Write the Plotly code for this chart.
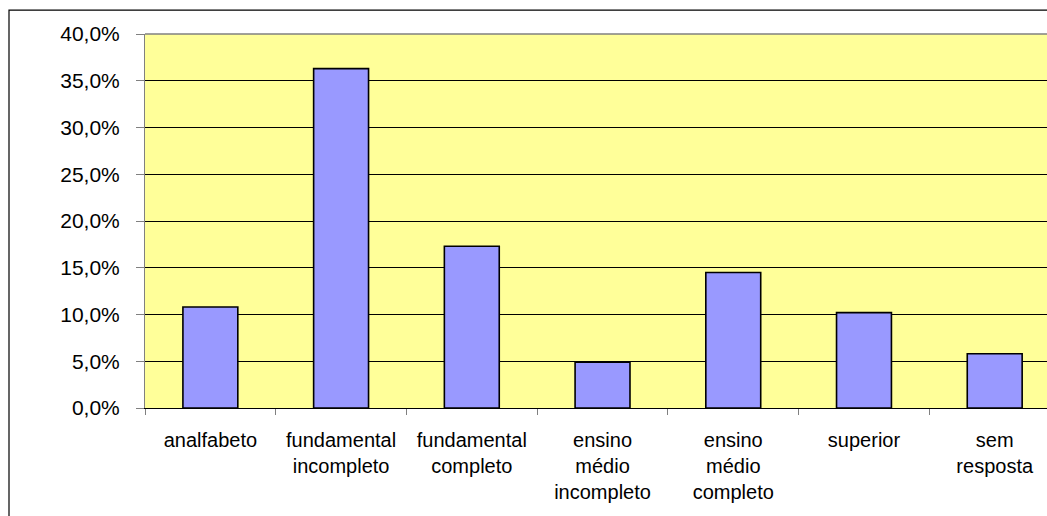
import plotly.graph_objects as go

categories = ["analfabeto", "fundamental<br>incompleto", "fundamental<br>completo",
              "ensino<br>médio<br>incompleto", "ensino<br>médio<br>completo",
              "superior", "sem<br>resposta"]
values = [10.8, 36.3, 17.3, 4.9, 14.5, 10.2, 5.8]
y_ticks = [0, 5, 10, 15, 20, 25, 30, 35, 40]
y_tick_labels = ["0,0%", "5,0%", "10,0%", "15,0%", "20,0%", "25,0%", "30,0%", "35,0%", "40,0%"]

W, H = 1047, 516
ml, mt, mb = 145, 33.5, 516 - 408.3
pw, ph = W - ml, H - mt - mb

fig = go.Figure(go.Bar(
    x=categories, y=values,
    marker=dict(color="#9999FF", line=dict(color="black", width=1.6)),
    width=0.42,
))

fig.update_layout(
    width=W, height=H, autosize=False,
    margin=dict(l=ml, r=0, t=mt, b=mb, pad=0),
    paper_bgcolor="white", plot_bgcolor="#FFFF99",
    font=dict(family="Liberation Sans, Arial, sans-serif", size=20, color="black"),
    showlegend=False,
    bargap=0.58,
)
fig.update_xaxes(
    type="category", range=[-0.5, 6.4],
    showgrid=False, showline=True, linecolor="black", linewidth=1,
    ticks="outside", ticklen=6, tickcolor="#808080", tickson="boundaries",
    ticklabelstandoff=14,
    tickfont=dict(size=20),
)
fig.update_yaxes(
    range=[0, 40], tickvals=y_ticks, ticktext=y_tick_labels,
    showgrid=True, gridcolor="black", gridwidth=1,
    showline=True, linecolor="#808080", linewidth=1,
    ticks="outside", ticklen=8, tickcolor="#808080",
    ticklabelstandoff=12, zeroline=False,
    tickfont=dict(size=21),
)
# top border of the plot area (grey) and the outer chart border (left/top)
fig.add_shape(type="line", xref="paper", yref="paper", x0=0, x1=1, y0=1, y1=1,
              line=dict(color="#808080", width=1.5))
fig.add_shape(type="path", xref="paper", yref="paper",
              path="M {x0},{yb} L {x0},{yt} L {xr},{yt}".format(
                  x0=(9 - ml) / pw, yb=-0.35, yt=(408.3 - 9.5) / ph, xr=1.05),
              line=dict(color="black", width=1.2))

fig.write_html("out.html")
